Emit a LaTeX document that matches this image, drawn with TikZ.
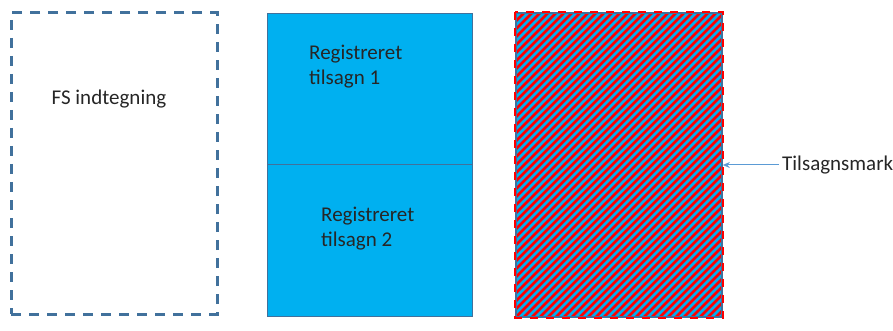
\documentclass[tikz,border=0pt]{standalone}
\usepackage{fontspec}
\setmainfont{Carlito}
\usetikzlibrary{arrows.meta,positioning}
\definecolor{boxedge}{RGB}{65,113,156}
\definecolor{boxfill}{RGB}{0,176,240}
\definecolor{pointerblue}{RGB}{91,155,213}
\definecolor{hatchred}{RGB}{255,0,0}
\tikzset{
  sketchbox/.style={rectangle,draw=boxedge,line width=3pt,dash pattern=on 10pt off 8pt,
    minimum width=206pt,minimum height=301pt,inner sep=0pt},
  regbox/.style={rectangle,draw=boxedge,line width=0.8pt,fill=boxfill,
    minimum width=205pt,minimum height=152pt,inner sep=0pt},
  markbox/.style={rectangle,draw=boxedge,line width=1.6pt,fill=boxfill,
    minimum width=206pt,minimum height=304pt,inner sep=0pt,
    path picture={
      \foreach \k in {-320,-312,...,220}
        \draw[hatchred,line width=2.8pt]
          ([xshift=\k pt]path picture bounding box.south west) -- ++(320pt,320pt);
    }},
  boxtext/.style={font=\fontsize{21}{25}\selectfont,align=left,inner sep=0pt,text=black!85},
  pointer/.style={-{Stealth[length=7pt,width=6pt]},pointerblue,line width=1pt}
}
\begin{document}
\begin{tikzpicture}[x=1pt,y=-1pt]
  \useasboundingbox (0,0) rectangle (893,331);
  \node[sketchbox] (fs)   at (114,163.5) {};
  \node[regbox]    (reg1) at (369.5,89) {};
  \node[regbox]    (reg2) at (369.5,240) {};
  \node[markbox]   (mark) at (619,165) {};
  \draw[hatchred,line width=1.6pt,dash pattern=on 8pt off 8pt]
    (mark.north west) rectangle (mark.south east);

  \node[boxtext] (fslabel) at (109,99) {FS indtegning};
  \node[boxtext,anchor=west] (reg1label) at (309,67) {Registreret\\tilsagn 1};
  \node[boxtext,anchor=west] (reg2label) at (321,229) {Registreret\\tilsagn 2};
  \node[boxtext,anchor=west] (marklabel) at (782,165) {Tilsagnsmark};

  \draw[pointer] ([xshift=-3pt]marklabel.west) -- (mark.east);
\end{tikzpicture}
\end{document}
